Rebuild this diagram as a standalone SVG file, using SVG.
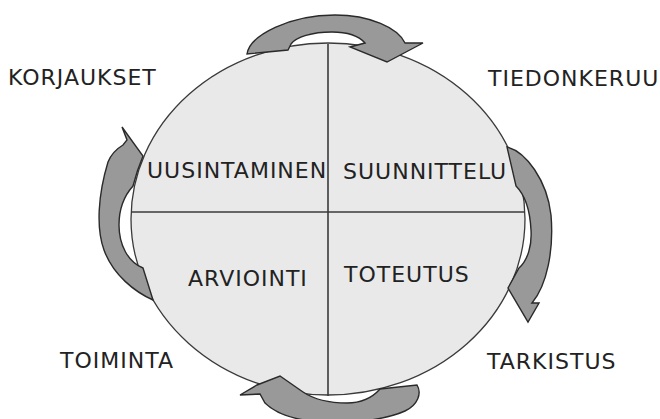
<svg xmlns="http://www.w3.org/2000/svg" width="660" height="419" viewBox="0 0 660 419">
<style>
.bg{fill:#ffffff}
.disc{fill:#e9e9e9;stroke:#3a3a3a;stroke-width:1.3}
.div{stroke:#3a3a3a;stroke-width:1.6;fill:none}
.arrow{fill:#999999;stroke:#2a2a2a;stroke-width:1.4;stroke-linejoin:miter}
.t{font-family:"DejaVu Sans",Verdana,sans-serif;font-size:22px;fill:#222;letter-spacing:1px}
</style>
<rect class="bg" x="0" y="0" width="660" height="419"/>
<g id="cycle">
<ellipse class="disc" cx="328" cy="219" rx="197" ry="176"/>
<line class="div" x1="328" y1="44" x2="328" y2="396"/>
<line class="div" x1="131" y1="212" x2="525" y2="212"/>
</g>
<g id="connectors">
<path class="arrow" d="M247,54 C250,35 290,15 335,15 C370,15 398,28 405,43 L423,43 L387,62 L350,47 L365,43 C358,35 347,32 332,32 C312,32 296,37 291,44 L288,50 Z"/>
<path class="arrow" d="M507,147 C526,152 547,180 551,215 C554,250 547,285 532,303 L539,303 L528,322 L508,288 L519,268 C528,260 532,245 531,230 C530,210 525,195 516,186 Z"/>
<path class="arrow" d="M240,395 L257,385 L280,376 L303,392 C315,400 330,403 347,403 C360,403 372,398 380,389 L417,385 C422,393 418,405 405,411 C385,420 350,424 320,422 C295,420 275,413 265,403 L260,394 Z"/>
<path class="arrow" d="M122,127 L143,156 C138,168 135,178 133,186 C124,196 119,210 119,225 C119,245 128,262 143,268 L153,300 C135,292 113,275 104,250 C96,228 98,195 108,162 C112,152 118,148 123,145 L127,140 Z"/>
</g>
<g id="q-uusintaminen"><text class="t" x="147" y="178">UUSINTAMINEN</text></g>
<g id="q-suunnittelu"><text class="t" x="343" y="179">SUUNNITTELU</text></g>
<g id="q-arviointi"><text class="t" x="188" y="286">ARVIOINTI</text></g>
<g id="q-toteutus"><text class="t" x="344" y="282">TOTEUTUS</text></g>
<g id="l-korjaukset"><text class="t" x="8" y="85">KORJAUKSET</text></g>
<g id="l-tiedonkeruu"><text class="t" x="488" y="86">TIEDONKERUU</text></g>
<g id="l-toiminta"><text class="t" x="60" y="368">TOIMINTA</text></g>
<g id="l-tarkistus"><text class="t" x="487" y="369">TARKISTUS</text></g>
</svg>
